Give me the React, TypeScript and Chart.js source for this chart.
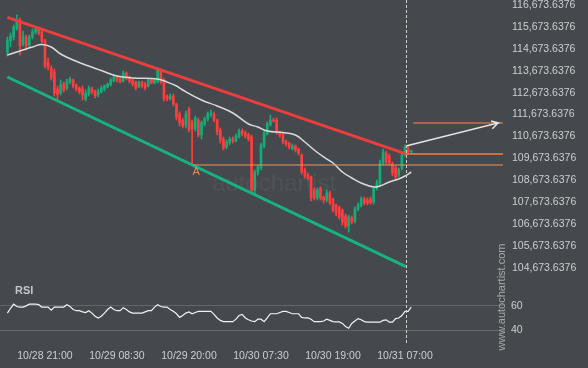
import React, { useEffect, useRef } from 'react';
import { Chart, registerables } from 'chart.js';

Chart.register(...registerables);

// ---- price data (30-minute candles, index 0 .. 129) ----
const openP = [
  114530, 115032, 115214, 115625, 115990, 114895, 115214, 114849, 115214, 115442,
  115579, 115442, 115077, 114074, 113800, 113617, 112842, 112659, 113070, 112887,
  113161, 113252, 113024, 112887, 112842, 112386, 112614, 112842, 112751, 112568,
  112705, 112842, 112933, 113024, 113207, 113389, 113298, 113207, 113572, 113389,
  113252, 113161, 112933, 113161, 113070, 112979, 113252, 113116, 113161, 113663,
  113252, 112522, 112386, 112522, 112157, 111701, 111428, 111199, 111929, 111336,
  111017, 111428, 110743, 111245, 111473, 111656, 111701, 111428, 110971, 110561,
  110196, 110378, 110561, 110470, 110652, 110926, 110834, 110743, 110652, 108234,
  109055, 109238, 110241, 110789, 111199, 111428, 111428, 110880, 110789, 110470,
  110378, 110105, 110241, 110105, 109831, 109147, 108918, 108827, 108234, 107869,
  108325, 107915, 107778, 108097, 107824, 107550, 107459, 107322, 107048, 106592,
  106957, 106820, 107367, 107550, 107824, 107778, 107824, 107687, 108325, 108553,
  109466, 109922, 109785, 109420, 109238, 108918, 109238, 109831, 110150, 109968,
];
const closeP = [
  115077, 115260, 115670, 115990, 114803, 115260, 114803, 115214, 115442, 115579,
  115396, 115032, 113891, 113845, 113344, 112659, 112614, 113024, 112796, 113207,
  113298, 112979, 112842, 112705, 112568, 112659, 112887, 112705, 112522, 112751,
  112887, 112979, 113070, 113252, 113389, 113252, 113161, 113572, 113344, 113207,
  113070, 112887, 113161, 112979, 112887, 113252, 113116, 113252, 113709, 113161,
  112386, 112386, 112522, 112157, 111564, 111291, 111154, 111701, 110971, 111017,
  111519, 110743, 111291, 111473, 111701, 111747, 111428, 110880, 110515, 110150,
  110424, 110561, 110470, 110698, 110926, 110789, 110698, 110561, 108234, 109055,
  109283, 110287, 110834, 111245, 111428, 111382, 110834, 110743, 110424, 110333,
  110196, 110241, 110059, 109922, 109055, 108873, 108782, 107869, 107869, 108234,
  107869, 107778, 108097, 107641, 107322, 107185, 107002, 106774, 106592, 107002,
  106774, 107367, 107550, 107824, 107641, 107641, 107641, 108325, 108553, 109466,
  109968, 109512, 109466, 109010, 108827, 109147, 109831, 110196, 109968, 110013,
];
const highP = [
  115214, 115396, 115761, 116218, 116081, 115488, 115305, 115305, 115579, 115670,
  115670, 115533, 115123, 114256, 113891, 113754, 112979, 113252, 113161, 113298,
  113389, 113298, 113070, 112933, 112979, 112796, 112979, 112933, 112796, 112842,
  112979, 113024, 113116, 113344, 113435, 113435, 113389, 113663, 113617, 113435,
  113298, 113207, 113207, 113207, 113161, 113344, 113298, 113298, 113800, 113754,
  113344, 112568, 112614, 112614, 112203, 111793, 111519, 111838, 112021, 111428,
  111610, 111519, 111382, 111564, 111793, 111884, 111793, 111473, 111063, 110652,
  110515, 110652, 110652, 110789, 111017, 111017, 110926, 110834, 110743, 109147,
  109375, 110378, 110926, 111336, 111656, 111519, 111519, 110926, 110834, 110515,
  110424, 110333, 110287, 110150, 109876, 109238, 109010, 108873, 108325, 108325,
  108371, 107960, 108234, 108188, 107869, 107595, 107504, 107367, 107139, 107094,
  107048, 107459, 107641, 107915, 107915, 107869, 107915, 108417, 108690, 109603,
  110105, 110013, 109876, 109512, 109329, 109238, 109922, 110287, 110241, 110059,
];
const lowP = [
  114347, 114758, 115077, 115533, 114393, 114803, 114621, 114758, 115123, 115351,
  115305, 114940, 113800, 113709, 113252, 112522, 112340, 112568, 112705, 112796,
  113070, 112887, 112751, 112614, 112340, 112294, 112522, 112614, 112431, 112477,
  112659, 112751, 112887, 112979, 113161, 113161, 113116, 113161, 113252, 113116,
  112979, 112796, 112887, 112887, 112796, 112933, 113070, 113070, 113116, 113070,
  112294, 112294, 112340, 112066, 111428, 111154, 111063, 111063, 110880, 109375,
  110926, 110652, 110561, 111154, 111382, 111564, 111336, 110743, 110378, 110059,
  110105, 110287, 110378, 110424, 110606, 110698, 110606, 110470, 108097, 108052,
  108918, 109147, 110150, 110743, 111154, 111336, 110789, 110652, 110333, 110241,
  110105, 110059, 109968, 109831, 108964, 108782, 108690, 107732, 107778, 107778,
  107778, 107641, 107687, 107550, 107231, 107048, 106911, 106637, 106501, 106318,
  106683, 106729, 107276, 107459, 107550, 107550, 107595, 107595, 108234, 108462,
  109375, 109420, 109375, 108873, 108690, 108827, 109147, 109785, 109922, 109922,
];

// ---- RSI per candle ----
const rsiValues = [
  54, 58, 61.4, 59.5, 59, 59, 60, 61.4, 61.4, 61.4,
  61, 59, 59, 59, 56.5, 59, 59, 59, 59, 61,
  59.5, 57, 56, 56, 55, 54.5, 56, 54, 51.5, 50,
  51.5, 54, 57, 59, 57, 56, 56, 58.5, 57, 55,
  54, 54, 54, 54, 55, 56, 56, 59, 61, 59.5,
  59, 59, 57, 55.5, 53.5, 50.5, 52, 54, 55, 53.5,
  54.5, 55.5, 55.5, 55.5, 55.5, 55.5, 53, 50, 48, 47,
  47, 47, 47, 49, 52, 53, 50, 48.5, 47.5, 47,
  49, 49, 47, 50, 53.5, 53.5, 53.5, 54.5, 55.5, 55.5,
  54.5, 53.5, 53.5, 53.5, 50.5, 50, 50, 49, 47, 47,
  47, 47.5, 49, 48, 47, 46.8, 46.7, 45.5, 43, 41.5,
  45.5, 47.5, 49.5, 48.5, 47, 46.5, 46.5, 46.5, 46.5, 46.5,
  48, 48.5, 46.5, 46.5, 49.5, 50, 52, 55.5, 55.5, 59,
];

// ---- moving average (sampled at candle indices) ----
const maIndex = [0, 4, 8, 11, 14, 17, 21, 25, 30, 35, 40, 48, 51, 54, 56, 62, 67, 72, 77, 80, 83, 88, 92, 95, 98, 101, 104, 107, 110, 113, 117, 119, 122, 125, 127, 129];
const maValues = [114393, 114575, 114758, 114872, 114758, 114438, 114164, 113936, 113686, 113435, 113344, 113298, 113161, 112979, 112796, 112340, 112066, 111747, 111245, 111108, 110926, 110856, 110743, 110424, 110059, 109740, 109466, 109055, 108782, 108553, 108371, 108417, 108599, 108736, 108873, 109055];

// ---- pattern lines ----
const resistanceIdx = [0, 127.3];
const resistanceVal = [116113, 109880];
const supportIdx = [0, 127.3];
const supportVal = [113390, 104740];
const patternPointIdx = 59.3;
const patternPointVal = 109375;
const signalIdx = 127.3;
const breakoutLevel = 109880;
const targetLevel = 111291;
const projectionEndIdx = 158.3;
const targetStartIdx = 129.6;
const arrowStartVal = 110241;
const arrowTipIdx = 156.7;
const arrowHeadIdx = [154.5, 154.9];
const arrowHeadVal = [111382, 111026];

// ---- axes ----
const xTickIndex = [12, 35, 58, 81, 104, 127];
const xTickLabels = ['10/28 21:00', '10/29 08:30', '10/29 20:00', '10/30 07:30', '10/30 19:00', '10/31 07:00'];
const priceTicks = [
  104673.6376, 105673.6376, 106673.6376, 107673.6376, 108673.6376, 109673.6376,
  110673.6376, 111673.6376, 112673.6376, 113673.6376, 114673.6376, 115673.6376, 116673.6376,
];
const rsiTicks = [40, 60];

const BG = '#45494e';
const UP = '#14ad78';
const DOWN = '#ff3d3d';
const TEXT = '#cdcdcd';
const FONT = "'Liberation Sans', Arial, sans-serif";

export default function App() {
  const ref = useRef<HTMLCanvasElement>(null);

  useEffect(() => {
    const canvas = ref.current;
    if (!canvas) return;
    const idx = openP.map((_, i) => i);
    const colors = idx.map((i) => (closeP[i] >= openP[i] ? UP : DOWN));

    const overlay = {
      id: 'overlay',
      beforeDraw(chart: any) {
        const { ctx, width, height } = chart;
        ctx.save();
        ctx.fillStyle = BG;
        ctx.fillRect(0, 0, width, height);
        ctx.restore();
      },
      beforeDatasetsDraw(chart: any) {
        const { ctx } = chart;
        ctx.save();
        ctx.fillStyle = 'rgba(255,255,255,0.05)';
        ctx.font = `24px ${FONT}`;
        ctx.textBaseline = 'alphabetic';
        ctx.fillText('autochartist', 212, 191);
        ctx.restore();
      },
      afterDatasetsDraw(chart: any) {
        const { ctx, chartArea, scales } = chart;
        const xs = scales.x;
        const ys = scales.y;
        const rs = scales.rsi;
        ctx.save();
        // signal time marker
        const px = Math.round(xs.getPixelForValue(signalIdx)) + 0.5;
        ctx.strokeStyle = '#cfcfcf';
        ctx.lineWidth = 1;
        ctx.setLineDash([3, 2]);
        ctx.beginPath();
        ctx.moveTo(px, chartArea.top);
        ctx.lineTo(px, chartArea.bottom);
        ctx.stroke();
        ctx.setLineDash([]);
        // pattern point label
        ctx.fillStyle = '#f08a4b';
        ctx.font = `11px ${FONT}`;
        ctx.textAlign = 'center';
        ctx.textBaseline = 'top';
        ctx.fillText('A', xs.getPixelForValue(patternPointIdx) + 3, ys.getPixelForValue(patternPointVal) + 1);
        // RSI title
        ctx.fillStyle = '#c4c4c4';
        ctx.font = `bold 11px ${FONT}`;
        ctx.textAlign = 'left';
        ctx.textBaseline = 'middle';
        ctx.fillText('RSI', 15, rs.top + 11);
        // site label
        ctx.translate(chartArea.right - 3, 297);
        ctx.rotate(-Math.PI / 2);
        ctx.fillStyle = '#a9a9a9';
        ctx.font = `11px ${FONT}`;
        ctx.textAlign = 'center';
        ctx.textBaseline = 'middle';
        ctx.fillText('www.autochartist.com', 0, 0);
        ctx.restore();
      },
    };

    const line = (data: any[], color: string, width: number, order: number, extra: any = {}) => ({
      type: 'line',
      data,
      borderColor: color,
      borderWidth: width,
      pointRadius: 0,
      fill: false,
      order,
      yAxisID: 'y',
      ...extra,
    });

    const chart = new Chart(canvas, {
      type: 'bar',
      data: {
        datasets: [
          line(
            [
              { x: signalIdx, y: arrowStartVal },
              { x: arrowTipIdx, y: targetLevel },
              { x: arrowHeadIdx[0], y: arrowHeadVal[0] },
              { x: arrowTipIdx, y: targetLevel },
              { x: arrowHeadIdx[1], y: arrowHeadVal[1] },
            ],
            '#e6e6e6', 1.5, 1,
          ),
          line([{ x: targetStartIdx, y: targetLevel }, { x: projectionEndIdx, y: targetLevel }], '#ff8a45', 1, 1),
          line([{ x: signalIdx, y: breakoutLevel }, { x: projectionEndIdx, y: breakoutLevel }], '#ff7a3c', 1.5, 1),
          line([{ x: patternPointIdx, y: patternPointVal }, { x: projectionEndIdx, y: patternPointVal }], '#f0955a', 1, 1),
          line(resistanceIdx.map((x, i) => ({ x, y: resistanceVal[i] })), '#ee3d3d', 3, 2),
          line(supportIdx.map((x, i) => ({ x, y: supportVal[i] })), '#16b382', 3, 2),
          line(maIndex.map((x, i) => ({ x, y: maValues[i] })), '#dadada', 1.5, 3, { tension: 0.4 }),
          line(rsiValues.map((v, i) => ({ x: i, y: v })), '#f2f2f2', 1.2, 3, { yAxisID: 'rsi' }),
          {
            type: 'bar',
            data: idx.map((i) => ({ x: i, y: [openP[i], closeP[i]] })),
            backgroundColor: colors,
            barThickness: 2,
            minBarLength: 1,
            grouped: false,
            order: 4,
            yAxisID: 'y',
          },
          {
            type: 'bar',
            data: idx.map((i) => ({ x: i, y: [lowP[i], highP[i]] })),
            backgroundColor: colors,
            barThickness: 1,
            grouped: false,
            order: 5,
            yAxisID: 'y',
          },
        ] as any,
      },
      options: {
        animation: false,
        responsive: false,
        devicePixelRatio: 1,
        events: [],
        layout: { padding: 0 },
        plugins: { legend: { display: false }, tooltip: { enabled: false } },
        scales: {
          x: {
            type: 'linear',
            min: -2.364,
            max: 158.94,
            offset: false,
            grid: { display: false, drawTicks: false },
            border: { display: false },
            afterBuildTicks: (s: any) => {
              s.ticks = xTickIndex.map((v) => ({ value: v }));
            },
            afterFit: (s: any) => {
              s.height = 23;
              s.paddingLeft = 0;
              s.paddingRight = 0;
            },
            ticks: {
              autoSkip: false,
              maxRotation: 0,
              color: TEXT,
              padding: 5,
              font: { family: FONT, size: 10.5 },
              callback: (v: any) => {
                const k = xTickIndex.indexOf(Number(v));
                return k >= 0 ? xTickLabels[k] : '';
              },
            },
          },
          y: {
            type: 'linear',
            position: 'right',
            stack: 'right',
            stackWeight: 280,
            min: 104128,
            max: 116902,
            grid: { display: false, drawTicks: false },
            border: { display: false },
            afterBuildTicks: (s: any) => {
              s.ticks = priceTicks.map((v) => ({ value: v }));
            },
            afterFit: (s: any) => {
              s.width = 83;
              s.paddingTop = 0;
              s.paddingBottom = 0;
            },
            ticks: {
              autoSkip: false,
              color: TEXT,
              padding: 7,
              font: { family: FONT, size: 10.5 },
              callback: (v: any) =>
                Number(v).toLocaleString('en-US', { minimumFractionDigits: 4, maximumFractionDigits: 4 }),
            },
          },
          rsi: {
            type: 'linear',
            axis: 'y',
            position: 'right',
            stack: 'right',
            stackWeight: 65,
            min: 27.65,
            max: 81.4,
            grid: { display: true, drawTicks: false, color: '#62675f', lineWidth: 1 },
            border: { display: false },
            afterBuildTicks: (s: any) => {
              s.ticks = rsiTicks.map((v) => ({ value: v }));
            },
            afterFit: (s: any) => {
              s.width = 83;
              s.paddingTop = 0;
              s.paddingBottom = 0;
            },
            ticks: {
              autoSkip: false,
              color: TEXT,
              padding: 6,
              font: { family: FONT, size: 10.5 },
              callback: (v: any) => String(v),
            },
          },
        } as any,
      },
      plugins: [overlay],
    } as any);

    return () => chart.destroy();
  }, []);

  return (
    <div style={{ position: 'fixed', left: 0, top: 0, width: 588, height: 368, background: BG }}>
      <canvas ref={ref} width={588} height={368} style={{ display: 'block' }} />
    </div>
  );
}
